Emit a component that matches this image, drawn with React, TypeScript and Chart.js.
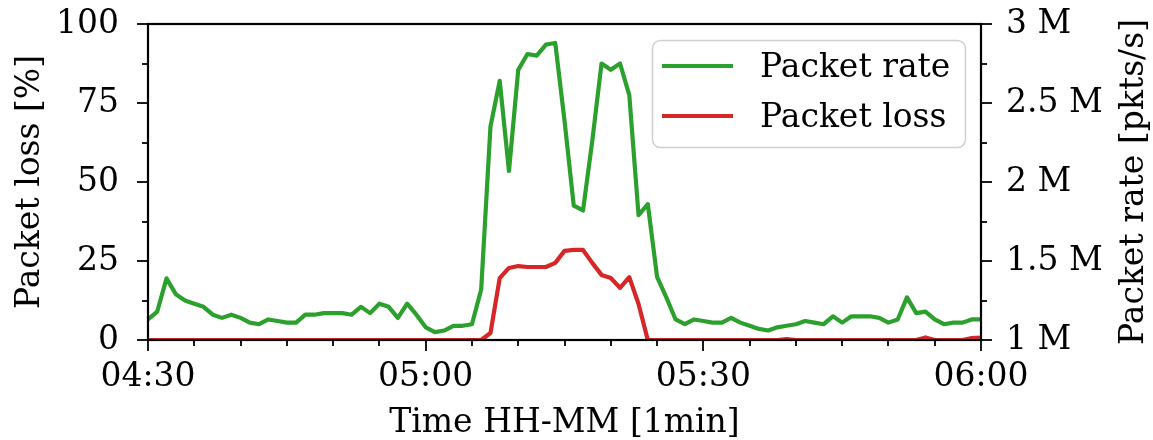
import React, { useEffect, useRef } from "react";
import { Chart, registerables } from "chart.js";

Chart.register(...registerables);

// ---- Data ----
const START_MINUTES = 4 * 60 + 30; // 04:30
const N_POINTS = 91; // 04:30 .. 06:00, 1 min
const TIME_LABELS: string[] = Array.from({ length: N_POINTS }, (_, i) => {
  const t = START_MINUTES + i;
  const h = Math.floor(t / 60);
  const m = t % 60;
  return `${String(h).padStart(2, "0")}:${String(m).padStart(2, "0")}`;
});

// Packet rate in millions of packets per second (right axis)
const PACKET_RATE_M = [
  1.13, 1.18, 1.39, 1.29, 1.25, 1.23, 1.21, 1.16, 1.14, 1.16,
  1.14, 1.11, 1.10, 1.13, 1.12, 1.11, 1.11, 1.16, 1.16, 1.17,
  1.17, 1.17, 1.16, 1.21, 1.17, 1.23, 1.21, 1.14, 1.23, 1.16,
  1.08, 1.05, 1.06, 1.09, 1.09, 1.10, 1.32, 2.35, 2.64, 2.07,
  2.71, 2.81, 2.80, 2.87, 2.88, 2.39, 1.85, 1.82, 2.26, 2.75,
  2.71, 2.75, 2.55, 1.79, 1.86, 1.40, 1.27, 1.13, 1.10, 1.13,
  1.12, 1.11, 1.11, 1.14, 1.11, 1.09, 1.07, 1.06, 1.08, 1.09,
  1.10, 1.12, 1.11, 1.10, 1.15, 1.11, 1.15, 1.15, 1.15, 1.14,
  1.11, 1.13, 1.27, 1.17, 1.18, 1.13, 1.10, 1.11, 1.11, 1.13,
  1.13,
];

// Packet loss in percent (left axis)
const PACKET_LOSS_PCT = [
  0, 0, 0, 0, 0, 0, 0, 0, 0, 0,
  0, 0, 0, 0, 0, 0, 0, 0, 0, 0,
  0, 0, 0, 0, 0, 0, 0, 0, 0, 0,
  0, 0, 0, 0, 0, 0, 0, 2.2, 19.6, 22.8,
  23.4, 23.1, 23.1, 23.1, 24.4, 28.2, 28.5, 28.5, 24.4, 20.6,
  19.6, 16.5, 19.9, 11.4, 0, 0, 0, 0, 0, 0,
  0, 0, 0, 0, 0, 0, 0, 0, 0, 0.3,
  0, 0, 0, 0, 0, 0, 0, 0, 0, 0,
  0, 0, 0, 0, 0.8, 0, 0, 0, 0, 0.6,
  0.8,
];

const LOSS_TICKS_MAJOR = [0, 25, 50, 75, 100];
const RATE_TICKS_MAJOR = [1, 1.5, 2, 2.5, 3];
const X_MAJOR_EVERY = 30;
const X_MINOR_EVERY = 5;

const GREEN = "#2ca02c";
const RED = "#d62728";
const FONT = "DejaVu Serif";
const FONT_SIZE = 33;

const framePlugin = {
  id: "frameTicks",
  afterDatasetsDraw(chart: any) {
    const { ctx, chartArea } = chart;
    const { left, right, top, bottom } = chartArea;
    const xs = chart.scales.x;
    const ys = chart.scales.y;
    const y2 = chart.scales.y2;
    ctx.save();
    ctx.strokeStyle = "#000";
    ctx.lineWidth = 1.8;
    ctx.lineCap = "butt";
    for (let i = 0; i < N_POINTS; i += X_MINOR_EVERY) {
      const px = Math.round(xs.getPixelForValue(i));
      const len = i % X_MAJOR_EVERY === 0 ? 11 : 6;
      ctx.beginPath();
      ctx.moveTo(px, bottom);
      ctx.lineTo(px, bottom + len);
      ctx.stroke();
    }
    for (let v = 0; v <= 100; v += 12.5) {
      const py = Math.round(ys.getPixelForValue(v));
      const len = LOSS_TICKS_MAJOR.includes(v) ? 11 : 6;
      ctx.beginPath();
      ctx.moveTo(left, py);
      ctx.lineTo(left - len, py);
      ctx.stroke();
    }
    for (let v = 1; v <= 3.0001; v += 0.25) {
      const py = Math.round(y2.getPixelForValue(v));
      const len = RATE_TICKS_MAJOR.some((m) => Math.abs(m - v) < 1e-6) ? 11 : 6;
      ctx.beginPath();
      ctx.moveTo(right, py);
      ctx.lineTo(right + len, py);
      ctx.stroke();
    }
    ctx.lineWidth = 2.2;
    ctx.strokeRect(left, top, right - left, bottom - top);

    // legend
    const bx = right - 329;
    const by = top + 16;
    const bw = 313;
    const bh = 107;
    ctx.beginPath();
    ctx.roundRect(bx + 0.5, by + 0.5, bw, bh, 8);
    ctx.fillStyle = "rgba(255,255,255,0.85)";
    ctx.fill();
    ctx.strokeStyle = "#d0d0d0";
    ctx.lineWidth = 1.5;
    ctx.stroke();
    const items = chart.data.datasets.map((d: any) => ({ label: d.label, color: d.borderColor }));
    items.forEach((it: any, k: number) => {
      const ly = by + 26 + k * 50;
      ctx.strokeStyle = it.color;
      ctx.lineWidth = 4.2;
      ctx.beginPath();
      ctx.moveTo(bx + 10, ly);
      ctx.lineTo(bx + 81, ly);
      ctx.stroke();
      ctx.fillStyle = "#000";
      ctx.font = `${FONT_SIZE}px "${FONT}"`;
      ctx.textAlign = "left";
      ctx.textBaseline = "alphabetic";
      ctx.fillText(it.label, bx + 108, ly + 11);
    });
    ctx.restore();
  },
  afterDraw(chart: any) {
    const { ctx, chartArea } = chart;
    const { left, right, top, bottom } = chartArea;
    const midY = (top + bottom) / 2;
    ctx.save();
    ctx.fillStyle = "#000";
    ctx.font = `${FONT_SIZE}px "${FONT}"`;
    ctx.textAlign = "center";
    ctx.textBaseline = "middle";
    ctx.save();
    ctx.translate(30, midY);
    ctx.rotate(-Math.PI / 2);
    ctx.fillText("Packet loss [%]", 0, 0);
    ctx.restore();
    ctx.save();
    ctx.translate(chart.width - 19, midY);
    ctx.rotate(-Math.PI / 2);
    ctx.fillText("Packet rate [pkts/s]", 0, 0);
    ctx.restore();
    ctx.fillText("Time HH-MM [1min]", (left + right) / 2, chart.height - 17);
    ctx.restore();
  },
};

export default function App() {
  const ref = useRef<HTMLCanvasElement | null>(null);
  useEffect(() => {
    if (!ref.current) return;
    const font = { family: FONT, size: FONT_SIZE };
    const tickGrid = { display: true, drawOnChartArea: false, drawTicks: true, tickLength: 11, color: "rgba(0,0,0,0)" };
    const chart = new Chart(ref.current, {
      type: "line",
      data: {
        labels: TIME_LABELS,
        datasets: [
          {
            label: "Packet rate",
            data: PACKET_RATE_M,
            yAxisID: "y2",
            borderColor: GREEN,
            backgroundColor: GREEN,
            borderWidth: 4.2,
            pointRadius: 0,
            tension: 0,
            borderJoinStyle: "round",
            order: 2,
          },
          {
            label: "Packet loss",
            data: PACKET_LOSS_PCT,
            yAxisID: "y",
            borderColor: RED,
            backgroundColor: RED,
            borderWidth: 4.2,
            pointRadius: 0,
            tension: 0,
            borderJoinStyle: "round",
            order: 1,
          },
        ],
      },
      options: {
        responsive: false,
        maintainAspectRatio: false,
        animation: false,
        layout: { padding: { top: 24, left: 0, right: 0, bottom: 0 } },
        plugins: { legend: { display: false }, tooltip: { enabled: false } },
        scales: {
          x: {
            type: "category",
            offset: false,
            border: { display: false },
            grid: tickGrid,
            ticks: {
              autoSkip: false,
              maxRotation: 0,
              minRotation: 0,
              padding: 7,
              color: "#000",
              font,
              callback: (_v: any, idx: number) => (idx % X_MAJOR_EVERY === 0 ? TIME_LABELS[idx] : ""),
            },
            afterFit: (s: any) => {
              s.height = 100;
              s.paddingLeft = 0;
              s.paddingRight = 0;
            },
          },
          y: {
            position: "left",
            min: 0,
            max: 100,
            border: { display: false },
            grid: tickGrid,
            ticks: {
              stepSize: 12.5,
              padding: 18,
              color: "#000",
              font,
              callback: (v: any) => (LOSS_TICKS_MAJOR.includes(Number(v)) ? String(v) : ""),
            },
            afterFit: (s: any) => {
              s.width = 148;
              s.paddingTop = 0;
              s.paddingBottom = 0;
            },
          },
          y2: {
            position: "right",
            min: 1,
            max: 3,
            border: { display: false },
            grid: tickGrid,
            ticks: {
              stepSize: 0.25,
              padding: 14,
              color: "#000",
              font,
              callback: (v: any) =>
                RATE_TICKS_MAJOR.some((m) => Math.abs(m - Number(v)) < 1e-6) ? `${v} M` : "",
            },
            afterFit: (s: any) => {
              s.width = 172;
              s.paddingTop = 0;
              s.paddingBottom = 0;
            },
          },
        },
      },
      plugins: [framePlugin],
    });
    return () => chart.destroy();
  }, []);

  return (
    <div style={{ position: "absolute", left: 0, top: 0, width: 1153, height: 440, background: "#fff" }}>
      <canvas ref={ref} width={1153} height={440} />
    </div>
  );
}
